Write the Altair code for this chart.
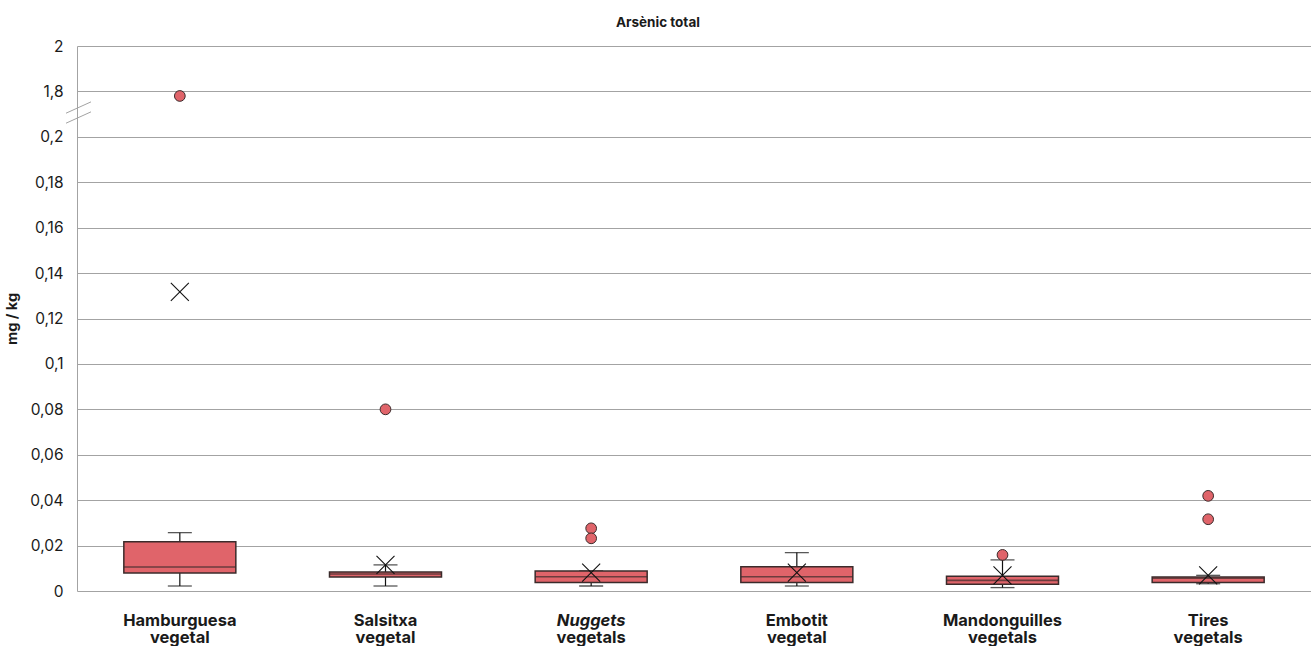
import altair as alt
import pandas as pd

# Categories (second word goes on the second label line)
categories = [
    "Hamburguesa vegetal",
    "Salsitxa vegetal",
    "Nuggets vegetals",
    "Embotit vegetal",
    "Mandonguilles vegetals",
    "Tires vegetals",
]

# Box-plot statistics, mg/kg
whisker_low = [0.0022, 0.0022, 0.0022, 0.0022, 0.0015, 0.0032]
q1 = [0.0079, 0.0062, 0.0037, 0.0037, 0.0030, 0.0037]
median = [0.0106, 0.0075, 0.0063, 0.0063, 0.0047, 0.0056]
q3 = [0.0217, 0.0084, 0.0088, 0.0107, 0.0065, 0.0062]
whisker_high = [0.0257, 0.0115, 0.0088, 0.0169, 0.0137, 0.0069]
mean = [0.1317, 0.0115, 0.0081, 0.0081, 0.0069, 0.0069]

# Outlying samples
outlier_cat = [
    "Hamburguesa vegetal",
    "Salsitxa vegetal",
    "Nuggets vegetals",
    "Nuggets vegetals",
    "Mandonguilles vegetals",
    "Tires vegetals",
    "Tires vegetals",
]
outlier_val = [1.78, 0.08, 0.0276, 0.0232, 0.0159, 0.0419, 0.0316]

stats = pd.DataFrame({
    "cat": categories,
    "lo": whisker_low,
    "q1": q1,
    "med": median,
    "q3": q3,
    "hi": whisker_high,
    "mean": mean,
})
outliers = pd.DataFrame({"cat": outlier_cat, "v": outlier_val})

RED = "#e0646a"
EDGE = "#3b2b2b"
GRID = "#a3a3a3"
FONT = "Inter"


def broken(field):
    # Broken axis: 0-0.2 occupies 10 slots, 1.8-2 one slot above a gap slot
    return (f"datum['{field}'] <= 0.2 ? datum['{field}'] / 0.02 : "
            f"11 + (datum['{field}'] - 1.8) / 0.2")


label_expr = ("datum.value <= 10 ? replace(format(datum.value * 0.02, '.2~f'), '.', ',') : "
              "(datum.value == 11 ? '1,8' : (datum.value == 12 ? '2' : ''))")

y_scale = alt.Scale(domain=[0, 12], nice=False, zero=False)
y_axis = alt.Axis(
    values=[0, 1, 2, 3, 4, 5, 6, 7, 8, 9, 10, 11, 12],
    labelExpr=label_expr,
    title="mg / kg",
    titleFont=FONT, titleFontSize=14.5, titleFontWeight="bold", titleColor="#1a1a1a",
    titlePadding=10,
    labelFont=FONT, labelFontSize=15.5, labelColor="#1a1a1a", labelPadding=14,
    ticks=False, grid=True, gridColor=GRID, gridWidth=1,
    domain=True, domainColor=GRID, domainWidth=1,
)

x_scale = alt.Scale(domain=categories, paddingInner=0, paddingOuter=0)
label_common = dict(
    title=None, labelAngle=0, ticks=False, domain=False, grid=False,
    orient="bottom", labelFont=FONT, labelFontSize=16.5, labelFontWeight="bold",
    labelColor="#1a1a1a",
)
# First label line (the word "Nuggets" is set in italics)
x_axis_top_line = alt.Axis(
    labelExpr="split(datum.label, ' ')[0]",
    labelFontStyle={"expr": "datum.value == 'Nuggets vegetals' ? 'italic' : 'normal'"},
    labelPadding=21, **label_common,
)
# Second label line
x_axis_bottom_line = alt.Axis(
    labelExpr="split(datum.label, ' ')[1]",
    labelPadding=38, **label_common,
)

X_plain = alt.X("cat:N", scale=x_scale, sort=categories, axis=None)
X1 = alt.X("cat:N", scale=x_scale, sort=categories, axis=x_axis_top_line)
X2 = alt.X("cat:N", scale=x_scale, sort=categories, axis=x_axis_bottom_line)

base = alt.Chart(stats).transform_calculate(
    lo_p=broken("lo"), q1_p=broken("q1"), med_p=broken("med"),
    q3_p=broken("q3"), hi_p=broken("hi"), mean_p=broken("mean"),
)

whisker = base.mark_rule(color="#111", strokeWidth=1.2).encode(
    x=X1, y=alt.Y("lo_p:Q", scale=y_scale, axis=y_axis), y2="hi_p:Q"
)
cap_lo = base.mark_tick(color="#111", size=24, thickness=1.3).encode(
    x=X2, y=alt.Y("lo_p:Q", scale=y_scale)
)
cap_hi = base.mark_tick(color="#111", size=24, thickness=1.3).encode(
    x=X_plain, y=alt.Y("hi_p:Q", scale=y_scale)
)
box = base.mark_bar(size=112, color=RED, stroke=EDGE, strokeWidth=1.5).encode(
    x=X_plain, y=alt.Y("q1_p:Q", scale=y_scale), y2="q3_p:Q"
)
med = base.mark_tick(color=EDGE, size=112, thickness=1.6).encode(
    x=X_plain, y=alt.Y("med_p:Q", scale=y_scale)
)
mean_mark = base.mark_point(
    shape="M-1,-1L1,1M1,-1L-1,1", size=324, filled=False,
    color="#111", strokeWidth=1.1, opacity=1,
).encode(x=X_plain, y=alt.Y("mean_p:Q", scale=y_scale))

out = alt.Chart(outliers).transform_calculate(v_p=broken("v")).mark_point(
    shape="circle", size=115, filled=True, fill=RED, stroke=EDGE,
    strokeWidth=1, opacity=1,
).encode(x=X_plain, y=alt.Y("v_p:Q", scale=y_scale))

# Axis-break slashes between 0,2 and 1,8
brk_data = alt.Data(values=[{}])
brk1 = alt.Chart(brk_data).mark_rule(color=GRID, strokeWidth=1).encode(
    x=alt.value(-11), x2=alt.value(14),
    y=alt.datum(10.52, scale=y_scale), y2=alt.datum(10.77),
)
brk2 = alt.Chart(brk_data).mark_rule(color=GRID, strokeWidth=1).encode(
    x=alt.value(-11), x2=alt.value(14),
    y=alt.datum(10.30, scale=y_scale), y2=alt.datum(10.55),
)

chart = alt.layer(
    whisker, cap_lo, cap_hi, box, med, mean_mark, out, brk1, brk2
).resolve_axis(x="independent").properties(
    width=1234,
    height=545,
    title=alt.TitleParams(
        "Arsènic total", font=FONT, fontSize=13.5, fontWeight="bold",
        color="#1a1a1a", anchor="middle", frame="bounds", offset=10,
    ),
    padding={"left": 4, "right": 0, "top": 15, "bottom": 0},
).configure_view(stroke=None)

chart.save("out.html", embed_options={"renderer": "svg", "actions": False})
